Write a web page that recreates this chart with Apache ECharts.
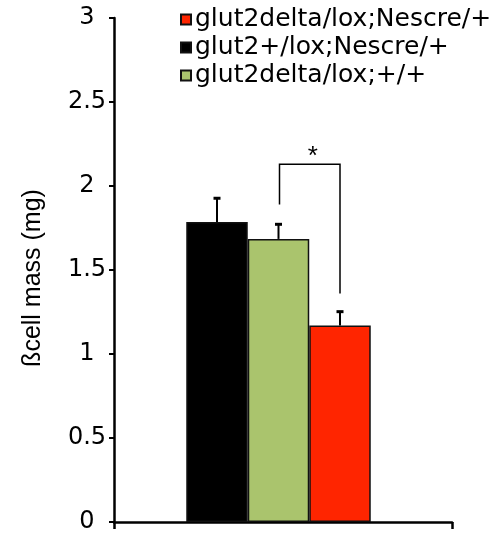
<!DOCTYPE html>
<html>
<head>
<meta charset="utf-8">
<script src="https://cdn.jsdelivr.net/npm/echarts@6/dist/echarts.min.js"></script>
<style>
html,body{margin:0;padding:0;background:#fff;}
#chart{width:497px;height:540px;}
</style>
</head>
<body>
<div id="chart"></div>
<script>
// ---- data ----
var categories = [''];
var seriesNames = ['glut2+/lox;Nescre/+', 'glut2delta/lox;+/+', 'glut2delta/lox;Nescre/+'];
var legendOrder = ['glut2delta/lox;Nescre/+', 'glut2+/lox;Nescre/+', 'glut2delta/lox;+/+'];
var means = [1.785, 1.685, 1.17];
var errorsUp = [0.145, 0.09, 0.085];
var yTicks = [0, 0.5, 1, 1.5, 2, 2.5, 3];
var yLabels = ['0', '0.5', '1', '1.5', '2', '2.5', '3'];
// significance bracket between series 1 and 2: [left end, top, right end]
var bracketLevels = [1.89, 2.13, 1.36];
var sigLabel = '*';

// ---- styles ----
var colors = ['#000000', '#AAC46D', '#FF2500'];
var BAR_W = 61.5;
var numFont = 'DejaVu Sans';

var chart = echarts.init(document.getElementById('chart'), null, {renderer: 'canvas'});

var series = [];
for (var i = 0; i < seriesNames.length; i++) {
  series.push({
    name: seriesNames[i],
    type: 'bar',
    data: [means[i]],
    barWidth: BAR_W,
    barGap: '0%',
    itemStyle: {color: colors[i], borderColor: '#111', borderWidth: 1.5},
    emphasis: {disabled: true},
    z: 2
  });
}

// error bars
series.push({
  type: 'custom',
  data: [[0]],
  z: 3,
  silent: true,
  renderItem: function (params, api) {
    var layout = api.barLayout({barWidth: BAR_W, barGap: '0%', count: means.length});
    var children = [];
    for (var i = 0; i < means.length; i++) {
      var base = api.coord([0, means[i]]);
      var top = api.coord([0, means[i] + errorsUp[i]]);
      var x = base[0] + layout[i].offsetCenter;
      children.push({type: 'line', shape: {x1: x, y1: base[1], x2: x, y2: top[1]},
        style: {stroke: '#000', lineWidth: 2}});
      children.push({type: 'line', shape: {x1: x - 3.5, y1: top[1] + 0.5, x2: x + 3.5, y2: top[1] + 0.5},
        style: {stroke: '#000', lineWidth: 3}});
    }
    return {type: 'group', children: children};
  }
});

// significance bracket
series.push({
  type: 'custom',
  data: [[0]],
  z: 3,
  silent: true,
  renderItem: function (params, api) {
    var layout = api.barLayout({barWidth: BAR_W, barGap: '0%', count: means.length});
    var c = api.coord([0, 0]);
    var xl = c[0] + layout[1].offsetCenter + 1;
    var xr = c[0] + layout[2].offsetCenter;
    var yl = api.coord([0, bracketLevels[0]])[1];
    var yt = api.coord([0, bracketLevels[1]])[1];
    var yr = api.coord([0, bracketLevels[2]])[1];
    return {type: 'group', children: [
      {type: 'polyline', shape: {points: [[xl, yl], [xl, yt], [xr, yt], [xr, yr]]},
        style: {stroke: '#000', lineWidth: 1.5, fill: null}},
      {type: 'text', x: (xl + xr) / 2 + 3, y: yt + 6,
        style: {text: sigLabel, font: '26px "Liberation Sans", Arial, sans-serif', fill: '#000',
          align: 'center', verticalAlign: 'bottom'}}
    ]};
  }
});

var option = {
  animation: false,
  backgroundColor: '#fff',
  grid: [
    {left: 114, right: 54, top: 18, bottom: 18, containLabel: false},
    {left: 114, right: 45, top: 18, bottom: 18, containLabel: false}
  ],
  legend: {
    data: legendOrder,
    orient: 'vertical',
    left: 175,
    top: 2,
    itemWidth: 10,
    itemHeight: 10,
    itemGap: 3,
    icon: 'rect',
    selectedMode: false,
    textStyle: {fontFamily: numFont, fontSize: 25, color: '#000', padding: [0, 0, 0, -1], lineHeight: 24}
  },
  xAxis: [
    {
      type: 'category',
      gridIndex: 0,
      data: categories,
      axisLine: {show: false},
      axisTick: {show: false},
      axisLabel: {show: false},
      splitLine: {show: false}
    },
    {
      type: 'category',
      gridIndex: 1,
      data: categories,
      axisLine: {lineStyle: {color: '#000', width: 2.5}},
      axisTick: {show: true, length: 7, lineStyle: {color: '#000', width: 2.5}},
      axisLabel: {show: false},
      splitLine: {show: false}
    }
  ],
  yAxis: [
    {
      type: 'value',
      gridIndex: 0,
      min: yTicks[0],
      max: yTicks[yTicks.length - 1],
      interval: yTicks[1] - yTicks[0],
      name: 'ßcell mass (mg)',
      nameLocation: 'middle',
      nameGap: 68,
      nameRotate: 90,
      nameTextStyle: {fontFamily: 'Liberation Sans', fontSize: 25, color: '#000', padding: [0, 16, 0, 0]},
      axisLine: {show: true, lineStyle: {color: '#000', width: 2.5}},
      axisTick: {show: true, length: 5, lineStyle: {color: '#000', width: 2}},
      axisLabel: {
        margin: 27,
        align: 'center',
        fontFamily: numFont,
        fontSize: 24,
        color: '#000',
        padding: [4, 0, 0, 0],
        formatter: function (v) {
          var idx = yTicks.indexOf(v);
          return idx >= 0 ? yLabels[idx] : '';
        }
      },
      splitLine: {show: false}
    },
    {
      type: 'value',
      gridIndex: 1,
      min: 0,
      max: 3,
      show: false
    }
  ],
  series: series
};
chart.setOption(option);
</script>
</body>
</html>
